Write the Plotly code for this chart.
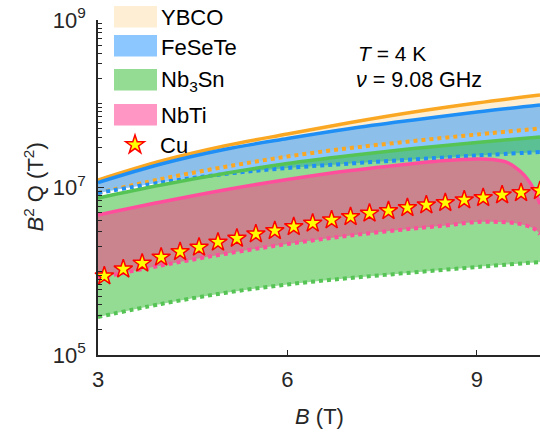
import plotly.graph_objects as go

# ---------------- data ----------------
B = [3, 4, 5, 6, 7, 8, 9, 10]
ybco_hi = [1.229e7, 2.072e7, 3.130e7, 4.353e7, 5.973e7, 7.97e7, 1.021e8, 1.272e8]
ybco_lo = [8.60e6, 1.263e7, 1.757e7, 2.345e7, 2.962e7, 3.591e7, 4.293e7, 5.064e7]
fesete_hi = [1.147e7, 1.908e7, 2.842e7, 3.847e7, 5.064e7, 6.397e7, 7.97e7, 9.66e7]
fesete_lo = [8.60e6, 1.147e7, 1.450e7, 1.709e7, 1.934e7, 2.159e7, 2.410e7, 2.654e7]
nb3sn_hi = [7.49e6, 1.071e7, 1.470e7, 1.934e7, 2.410e7, 2.922e7, 3.446e7, 4.009e7]
nb3sn_lo = [2.843e5, 4.07e5, 5.50e5, 6.96e5, 8.31e5, 9.69e5, 1.124e6, 1.290e6]

B_nbti_hi = [3, 4, 5, 6, 7, 8, 8.5, 9, 9.25, 9.5, 9.7, 9.8, 9.9, 10]
nbti_hi = [4.695e6, 6.71e6, 9.34e6, 1.246e7, 1.596e7, 1.934e7, 2.101e7, 2.189e7,
           2.159e7, 1.961e7, 1.531e7, 1.263e7, 9.6e6, 6.35e6]
B_nbti_lo = [3, 4, 5, 6, 7, 8, 8.5, 9, 9.5, 9.75, 9.9, 10]
nbti_lo = [8.31e5, 1.171e6, 1.607e6, 2.116e6, 2.673e6, 3.238e6, 3.518e6, 3.874e6,
           3.821e6, 3.566e6, 3.238e6, 2.785e6]

B_cu = [3.1, 3.4, 3.7, 4.0, 4.3, 4.6, 4.9, 5.2, 5.5, 5.8, 6.1, 6.4, 6.7, 7.0, 7.3,
        7.6, 7.9, 8.2, 8.5, 8.8, 9.1, 9.4, 9.7, 10.0]
cu = [8.77e5, 1.06e6, 1.245e6, 1.47e6, 1.71e6, 1.93e6, 2.22e6, 2.47e6, 2.79e6,
      3.05e6, 3.40e6, 3.74e6, 4.09e6, 4.48e6, 4.92e6, 5.28e6, 5.74e6, 6.18e6,
      6.59e6, 7.10e6, 7.56e6, 8.13e6, 8.66e6, 9.16e6]

band_names = ["YBCO", "FeSeTe", "Nb<sub>3</sub>Sn", "NbTi"]
y_ticks = [1e5, 1e7, 1e9]
y_ticktext = ["10<sup>5</sup>", "10<sup>7</sup>", "10<sup>9</sup>"]
x_ticks = [3, 6, 9]

# ---------------- styles ----------------
line_cols = ["#FAA823", "#1F8FF5", "#55C455", "#FF4F9C"]
fill_cols = ["rgba(253,223,169,0.5)", "rgba(25,145,255,0.5)",
             "rgba(41,183,41,0.5)", "rgba(255,45,135,0.5)"]
AX = "#262626"
FONT = "Liberation Sans, Arial, sans-serif"

bands = [
    (B, ybco_hi, B, ybco_lo),
    (B, fesete_hi, B, fesete_lo),
    (B, nb3sn_hi, B, nb3sn_lo),
    (B_nbti_hi, nbti_hi, B_nbti_lo, nbti_lo),
]

fig = go.Figure()

# fills first
for (xh, yh, xl, yl), fc in zip(bands, fill_cols):
    fig.add_trace(go.Scatter(x=xl, y=yl, mode="lines", line=dict(width=0, shape="spline"),
                             showlegend=False, hoverinfo="skip"))
    fig.add_trace(go.Scatter(x=xh, y=yh, mode="lines", line=dict(width=0, shape="spline"),
                             fill="tonexty", fillcolor=fc, showlegend=False, hoverinfo="skip"))

# boundary lines on top
for (xh, yh, xl, yl), lc in zip(bands, line_cols):
    fig.add_trace(go.Scatter(x=xh, y=yh, mode="lines",
                             line=dict(color=lc, width=3.5, shape="spline"),
                             showlegend=False))
    fig.add_trace(go.Scatter(x=xl, y=yl, mode="lines",
                             line=dict(color=lc, width=4, dash="dot", shape="spline"),
                             showlegend=False))

fig.add_trace(go.Scatter(x=B_cu, y=cu, mode="markers", name="Cu",
                         marker=dict(symbol="star", size=14, color="#FFFF00",
                                     line=dict(color="#FF0000", width=1.5)),
                         cliponaxis=False, showlegend=True))

# ---------------- layout geometry (pixels) ----------------
L, W, T, H = 98, 442, 20, 335
FIG_W, FIG_H = 540, 432


def px(xp):
    return (xp - L) / W


def py(yp):
    return (T + H - yp) / H


box_tops = [6, 35, 69, 104]
text_y = [18, 48, 81, 116]
shapes = []
annotations = []
for name, fc, top, ty in zip(band_names, fill_cols, box_tops, text_y):
    shapes.append(dict(type="rect", xref="paper", yref="paper",
                       x0=px(114), x1=px(157), y0=py(top + 21.5), y1=py(top),
                       fillcolor=fc, line=dict(width=0), layer="above"))
    annotations.append(dict(text=name, xref="paper", yref="paper", x=px(159), y=py(ty),
                            xanchor="left", yanchor="middle", showarrow=False,
                            font=dict(size=22, color="black", family=FONT)))

annotations.append(dict(text="<i>T</i> = 4 K", xref="paper", yref="paper",
                        x=px(356), y=py(53), xanchor="left", yanchor="middle",
                        showarrow=False, font=dict(size=21, color="black", family=FONT)))
annotations.append(dict(text="<i>ν</i> = 9.08 GHz", xref="paper", yref="paper",
                        x=px(354), y=py(80), xanchor="left", yanchor="middle",
                        showarrow=False, font=dict(size=21.5, color="black", family=FONT)))
# axis titles
annotations.append(dict(text="<i>B</i><sup>2</sup> Q (T<sup>2</sup>)", xref="paper", yref="paper",
                        x=px(33), y=0.5, xanchor="center", yanchor="middle", textangle=-90,
                        showarrow=False, font=dict(size=22, color=AX, family=FONT)))
annotations.append(dict(text="<i>B</i> (T)", xref="paper", yref="paper",
                        x=px(319), y=py(417), xanchor="center", yanchor="middle",
                        showarrow=False, font=dict(size=22, color=AX, family=FONT)))

minor_vals = [d * m for d in [1e5, 1e6, 1e7, 1e8] for m in range(1, 10) if d * m not in y_ticks]

fig.update_layout(
    width=FIG_W, height=FIG_H,
    margin=dict(l=L, r=FIG_W - L - W, t=T, b=FIG_H - T - H, pad=0),
    paper_bgcolor="white", plot_bgcolor="white",
    font=dict(family=FONT, size=22, color=AX),
    shapes=shapes, annotations=annotations,
    showlegend=True,
    legend=dict(x=px(110), y=py(145), xanchor="left", yanchor="middle",
                bgcolor="rgba(0,0,0,0)", borderwidth=0, itemwidth=40,
                font=dict(size=22, color="black", family=FONT)),
)
fig.update_xaxes(range=[3, 10], tickvals=x_ticks, ticks="inside", ticklen=5,
                 tickwidth=1.3, tickcolor=AX, showline=True, linecolor=AX, linewidth=1.5,
                 showgrid=False, zeroline=False, ticklabelstandoff=4,
                 ticklabeloverflow="allow", tickfont=dict(size=22, color=AX))
fig.update_yaxes(type="log", range=[5, 9], tickvals=y_ticks, ticktext=y_ticktext,
                 ticks="inside", ticklen=6, tickwidth=1.3, tickcolor=AX,
                 minor=dict(ticks="inside", ticklen=4, tickvals=minor_vals,
                            tickcolor=AX, tickwidth=1, showgrid=False),
                 showline=True, linecolor=AX, linewidth=1.5, showgrid=False,
                 zeroline=False, ticklabelstandoff=6, ticklabeloverflow="allow",
                 tickfont=dict(size=22, color=AX))

fig.write_html("out.html",
               config={"displayModeBar": False},
               post_script="document.body.style.margin='0px';"
                           "document.body.style.overflow='hidden';")
